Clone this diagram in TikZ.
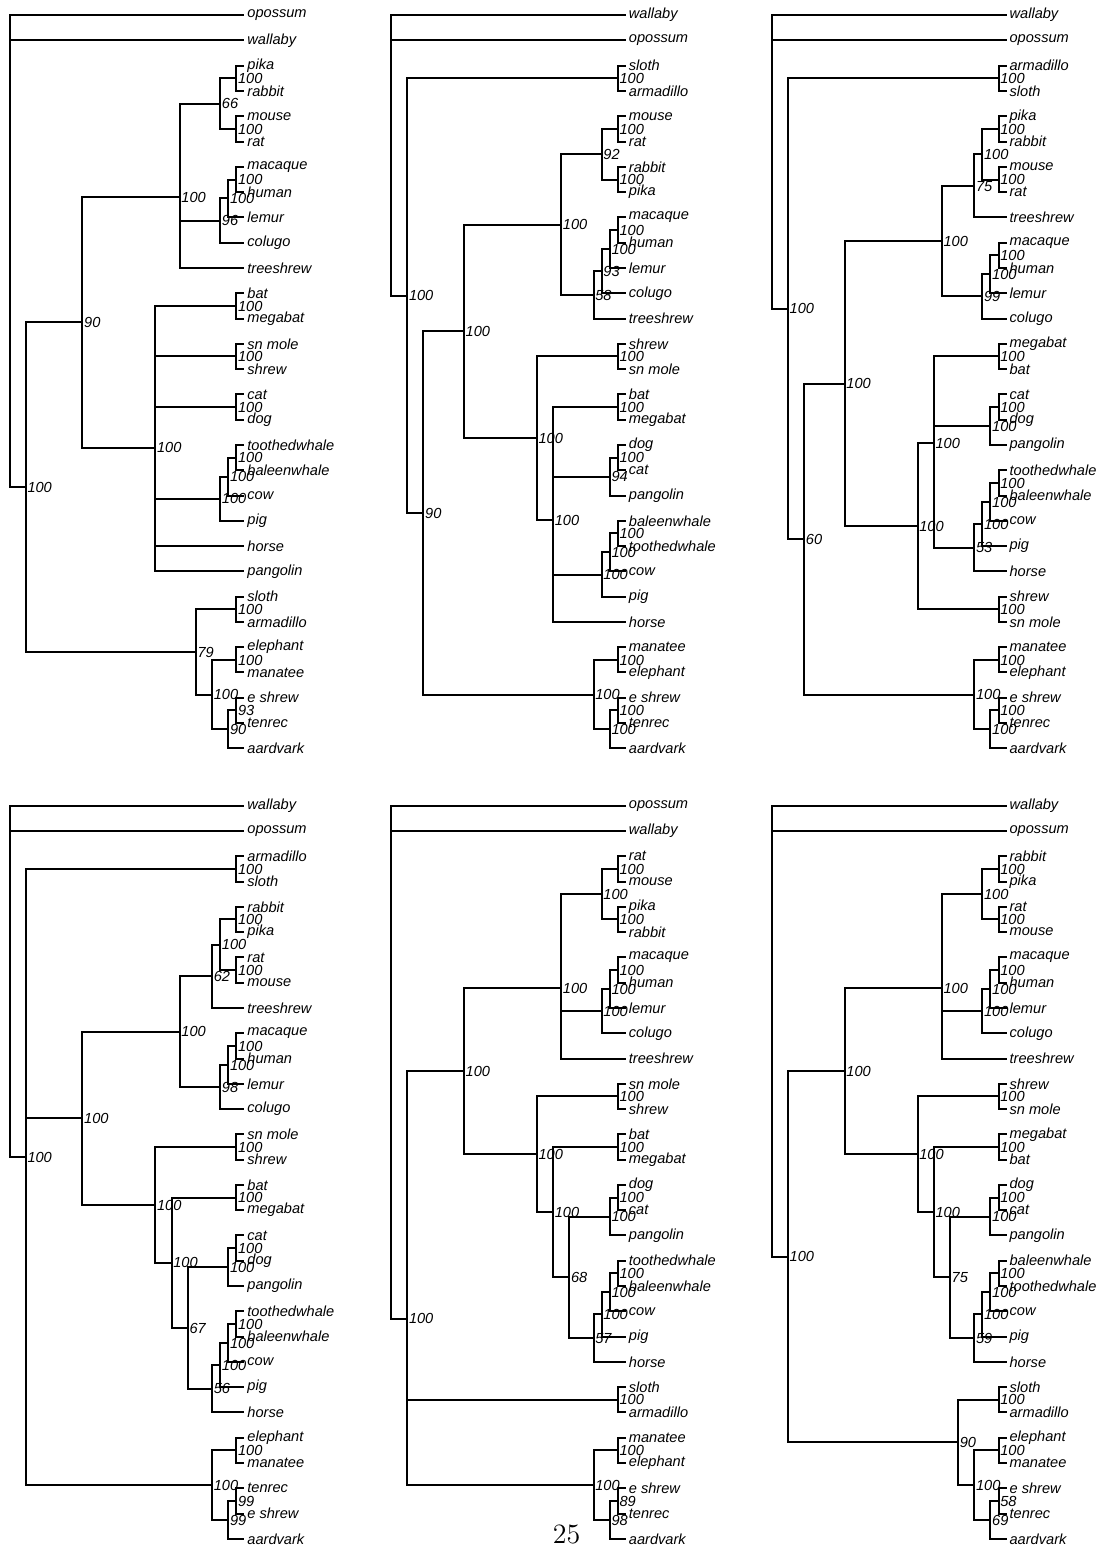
\documentclass[tikz,border=0pt]{standalone}
\usepackage{fontspec}
\newfontfamily\treefont{Liberation Sans}
\usepackage{tikz}
\tikzset{
  tip/.style     = {anchor=west, inner xsep=1pt, inner ysep=0pt,
                    font=\treefont\itshape\fontsize{7.3}{8}\selectfont},
  bootlab/.style = {inner xsep=.4pt, inner ysep=0pt,
                    text height=5.2pt, text depth=0pt,
                    font=\treefont\itshape\fontsize{7.3}{8}\selectfont},
  boot/.style    = {label={[bootlab]right:#1}}
}

\begin{document}
\begin{tikzpicture}[%
  x=4.05pt, y=-12.64pt,
  line width=1pt,
  every edge/.append style={to path={|- (\tikztotarget)}}
  ]
  \useasboundingbox (0pt,0pt) rectangle (548.5pt,-775pt);

  % Tree 1:
  \begin{scope}[shift={(4.75pt,-7.6pt)}]
    \foreach \n/\t [count=\i from 0] in {opossum, wallaby, pika, rabbit, mouse, rat,
        macaque, human, lemur, colugo, treeshrew, bat, megabat, snmole/sn mole, shrew,
        cat, dog, toothedwhale, baleenwhale, cow, pig, horse, pangolin, sloth,
        armadillo, elephant, manatee, eshrew/e shrew, tenrec, aardvark}
      \node[tip] (a-\n) at (29,\i) {\t};
    \coordinate (a-root) at (0,6.557);
    \coordinate[boot=100] (a-euth) at (2,18.672);
    \coordinate[boot=90] (a-bor) at (9,12.156);
    \coordinate[boot=100] (a-euar) at (21,7.208);
    \coordinate[boot=66] (a-glires) at (26,3.5);
    \coordinate[boot=100] (a-lago) at (28,2.5);
    \coordinate[boot=100] (a-rod) at (28,4.5);
    \coordinate[boot=96] (a-prim) at (26,8.125);
    \coordinate[boot=100] (a-mhl) at (27,7.25);
    \coordinate[boot=100] (a-mh) at (28,6.5);
    \coordinate[boot=100] (a-laur) at (18,17.104);
    \coordinate[boot=100] (a-bats) at (28,11.5);
    \coordinate[boot=100] (a-moles) at (28,13.5);
    \coordinate[boot=100] (a-carn) at (28,15.5);
    \coordinate[boot=100] (a-cet) at (26,19.125);
    \coordinate[boot=100] (a-tbc) at (27,18.25);
    \coordinate[boot=100] (a-whales) at (28,17.5);
    \coordinate[boot=79] (a-atl) at (23,25.188);
    \coordinate[boot=100] (a-xen) at (28,23.5);
    \coordinate[boot=100] (a-afro) at (25,26.875);
    \coordinate[boot=100] (a-pe) at (28,25.5);
    \coordinate[boot=90] (a-afi) at (27,28.25);
    \coordinate[boot=93] (a-et) at (28,27.5);

    \draw (a-root) edge (a-opossum) edge (a-wallaby) edge (a-euth);
    \draw (a-euth) edge (a-bor) edge (a-atl);
    \draw (a-bor) edge (a-euar) edge (a-laur);
    \draw (a-euar) edge (a-glires) edge (a-prim) edge (a-treeshrew);
    \draw (a-glires) edge (a-lago) edge (a-rod);
    \draw (a-lago) edge (a-pika) edge (a-rabbit);
    \draw (a-rod) edge (a-mouse) edge (a-rat);
    \draw (a-prim) edge (a-mhl) edge (a-colugo);
    \draw (a-mhl) edge (a-mh) edge (a-lemur);
    \draw (a-mh) edge (a-macaque) edge (a-human);
    \draw (a-laur) edge (a-bats) edge (a-moles) edge (a-carn) edge (a-cet)
                   edge (a-horse) edge (a-pangolin);
    \draw (a-bats) edge (a-bat) edge (a-megabat);
    \draw (a-moles) edge (a-snmole) edge (a-shrew);
    \draw (a-carn) edge (a-cat) edge (a-dog);
    \draw (a-cet) edge (a-tbc) edge (a-pig);
    \draw (a-tbc) edge (a-whales) edge (a-cow);
    \draw (a-whales) edge (a-toothedwhale) edge (a-baleenwhale);
    \draw (a-atl) edge (a-xen) edge (a-afro);
    \draw (a-xen) edge (a-sloth) edge (a-armadillo);
    \draw (a-afro) edge (a-pe) edge (a-afi);
    \draw (a-pe) edge (a-elephant) edge (a-manatee);
    \draw (a-afi) edge (a-et) edge (a-aardvark);
    \draw (a-et) edge (a-eshrew) edge (a-tenrec);
  \end{scope}

  % Tree 2:
  \begin{scope}[shift={(195.5pt,-7.6pt)}]
    \foreach \n/\t [count=\i from 0] in {wallaby, opossum, sloth, armadillo, mouse, rat,
        rabbit, pika, macaque, human, lemur, colugo, treeshrew, shrew, snmole/sn mole,
        bat, megabat, dog, cat, pangolin, baleenwhale, toothedwhale, cow, pig, horse,
        manatee, elephant, eshrew/e shrew, tenrec, aardvark}
      \node[tip] (b-\n) at (29,\i) {\t};
    \coordinate (b-root) at (0,4.032);
    \coordinate[boot=100] (b-euth) at (2,11.096);
    \coordinate[boot=100] (b-xen) at (28,2.5);
    \coordinate[boot=90] (b-ninety) at (4,19.691);
    \coordinate[boot=100] (b-bor) at (9,12.507);
    \coordinate[boot=100] (b-euar) at (21,8.281);
    \coordinate[boot=92] (b-glires) at (26,5.5);
    \coordinate[boot=100] (b-rod) at (28,4.5);
    \coordinate[boot=100] (b-lago) at (28,6.5);
    \coordinate[boot=58] (b-eup) at (25,11.063);
    \coordinate[boot=93] (b-prim) at (26,10.125);
    \coordinate[boot=100] (b-mhl) at (27,9.25);
    \coordinate[boot=100] (b-mh) at (28,8.5);
    \coordinate[boot=100] (b-laur) at (18,16.734);
    \coordinate[boot=100] (b-moles) at (28,13.5);
    \coordinate[boot=100] (b-lr) at (20,19.969);
    \coordinate[boot=100] (b-bats) at (28,15.5);
    \coordinate[boot=94] (b-carn) at (27,18.25);
    \coordinate[boot=100] (b-dc) at (28,17.5);
    \coordinate[boot=100] (b-cet) at (26,22.125);
    \coordinate[boot=100] (b-tbc) at (27,21.25);
    \coordinate[boot=100] (b-whales) at (28,20.5);
    \coordinate[boot=100] (b-afro) at (25,26.875);
    \coordinate[boot=100] (b-pe) at (28,25.5);
    \coordinate[boot=100] (b-afi) at (27,28.25);
    \coordinate[boot=100] (b-et) at (28,27.5);

    \draw (b-root) edge (b-wallaby) edge (b-opossum) edge (b-euth);
    \draw (b-euth) edge (b-xen) edge (b-ninety);
    \draw (b-xen) edge (b-sloth) edge (b-armadillo);
    \draw (b-ninety) edge (b-bor) edge (b-afro);
    \draw (b-bor) edge (b-euar) edge (b-laur);
    \draw (b-euar) edge (b-glires) edge (b-eup);
    \draw (b-glires) edge (b-rod) edge (b-lago);
    \draw (b-rod) edge (b-mouse) edge (b-rat);
    \draw (b-lago) edge (b-rabbit) edge (b-pika);
    \draw (b-eup) edge (b-prim) edge (b-treeshrew);
    \draw (b-prim) edge (b-mhl) edge (b-colugo);
    \draw (b-mhl) edge (b-mh) edge (b-lemur);
    \draw (b-mh) edge (b-macaque) edge (b-human);
    \draw (b-laur) edge (b-moles) edge (b-lr);
    \draw (b-moles) edge (b-shrew) edge (b-snmole);
    \draw (b-lr) edge (b-bats) edge (b-carn) edge (b-cet) edge (b-horse);
    \draw (b-bats) edge (b-bat) edge (b-megabat);
    \draw (b-carn) edge (b-dc) edge (b-pangolin);
    \draw (b-dc) edge (b-dog) edge (b-cat);
    \draw (b-cet) edge (b-tbc) edge (b-pig);
    \draw (b-tbc) edge (b-whales) edge (b-cow);
    \draw (b-whales) edge (b-baleenwhale) edge (b-toothedwhale);
    \draw (b-afro) edge (b-pe) edge (b-afi);
    \draw (b-pe) edge (b-manatee) edge (b-elephant);
    \draw (b-afi) edge (b-et) edge (b-aardvark);
    \draw (b-et) edge (b-eshrew) edge (b-tenrec);
  \end{scope}

  % Tree 3:
  \begin{scope}[shift={(385.85pt,-7.6pt)}]
    \foreach \n/\t [count=\i from 0] in {wallaby, opossum, armadillo, sloth, pika, rabbit,
        mouse, rat, treeshrew, macaque, human, lemur, colugo, megabat, bat, cat, dog,
        pangolin, toothedwhale, baleenwhale, cow, pig, horse, shrew, snmole/sn mole,
        manatee, elephant, eshrew/e shrew, tenrec, aardvark}
      \node[tip] (c-\n) at (29,\i) {\t};
    \coordinate (c-root) at (0,4.204);
    \coordinate[boot=100] (c-euth) at (2,11.613);
    \coordinate[boot=100] (c-xen) at (28,2.5);
    \coordinate[boot=60] (c-sixty) at (4,20.727);
    \coordinate[boot=100] (c-bor) at (9,14.578);
    \coordinate[boot=100] (c-euar) at (21,8.938);
    \coordinate[boot=75] (c-eg) at (25,6.75);
    \coordinate[boot=100] (c-glires) at (26,5.5);
    \coordinate[boot=100] (c-lago) at (28,4.5);
    \coordinate[boot=100] (c-rod) at (28,6.5);
    \coordinate[boot=99] (c-prim) at (26,11.125);
    \coordinate[boot=100] (c-mhl) at (27,10.25);
    \coordinate[boot=100] (c-mh) at (28,9.5);
    \coordinate[boot=100] (c-laur) at (18,20.219);
    \coordinate[boot=100] (c-lr) at (20,16.938);
    \coordinate[boot=100] (c-bats) at (28,13.5);
    \coordinate[boot=100] (c-carn) at (27,16.25);
    \coordinate[boot=100] (c-dc) at (28,15.5);
    \coordinate[boot=53] (c-cetc) at (25,21.063);
    \coordinate[boot=100] (c-cet) at (26,20.125);
    \coordinate[boot=100] (c-tbc) at (27,19.25);
    \coordinate[boot=100] (c-whales) at (28,18.5);
    \coordinate[boot=100] (c-moles) at (28,23.5);
    \coordinate[boot=100] (c-afro) at (25,26.875);
    \coordinate[boot=100] (c-pe) at (28,25.5);
    \coordinate[boot=100] (c-afi) at (27,28.25);
    \coordinate[boot=100] (c-et) at (28,27.5);

    \draw (c-root) edge (c-wallaby) edge (c-opossum) edge (c-euth);
    \draw (c-euth) edge (c-xen) edge (c-sixty);
    \draw (c-xen) edge (c-armadillo) edge (c-sloth);
    \draw (c-sixty) edge (c-bor) edge (c-afro);
    \draw (c-bor) edge (c-euar) edge (c-laur);
    \draw (c-euar) edge (c-eg) edge (c-prim);
    \draw (c-eg) edge (c-glires) edge (c-treeshrew);
    \draw (c-glires) edge (c-lago) edge (c-rod);
    \draw (c-lago) edge (c-pika) edge (c-rabbit);
    \draw (c-rod) edge (c-mouse) edge (c-rat);
    \draw (c-prim) edge (c-mhl) edge (c-colugo);
    \draw (c-mhl) edge (c-mh) edge (c-lemur);
    \draw (c-mh) edge (c-macaque) edge (c-human);
    \draw (c-laur) edge (c-lr) edge (c-moles);
    \draw (c-lr) edge (c-bats) edge (c-carn) edge (c-cetc);
    \draw (c-bats) edge (c-megabat) edge (c-bat);
    \draw (c-carn) edge (c-dc) edge (c-pangolin);
    \draw (c-dc) edge (c-cat) edge (c-dog);
    \draw (c-cetc) edge (c-cet) edge (c-horse);
    \draw (c-cet) edge (c-tbc) edge (c-pig);
    \draw (c-tbc) edge (c-whales) edge (c-cow);
    \draw (c-whales) edge (c-toothedwhale) edge (c-baleenwhale);
    \draw (c-moles) edge (c-shrew) edge (c-snmole);
    \draw (c-afro) edge (c-pe) edge (c-afi);
    \draw (c-pe) edge (c-manatee) edge (c-elephant);
    \draw (c-afi) edge (c-et) edge (c-aardvark);
    \draw (c-et) edge (c-eshrew) edge (c-tenrec);
  \end{scope}

  % Tree 4:
  \begin{scope}[shift={(4.75pt,-402.85pt)}]
    \foreach \n/\t [count=\i from 0] in {wallaby, opossum, armadillo, sloth, rabbit, pika,
        rat, mouse, treeshrew, macaque, human, lemur, colugo, snmole/sn mole, shrew, bat,
        megabat, cat, dog, pangolin, toothedwhale, baleenwhale, cow, pig, horse,
        elephant, manatee, tenrec, eshrew/e shrew, aardvark}
      \node[tip] (d-\n) at (29,\i) {\t};
    \coordinate (d-root) at (0,4.971);
    \coordinate[boot=100] (d-euth) at (2,13.913);
    \coordinate[boot=100] (d-xen) at (28,2.5);
    \coordinate[boot=100] (d-bor) at (9,12.363);
    \coordinate[boot=100] (d-euar) at (21,8.938);
    \coordinate[boot=62] (d-eg) at (25,6.75);
    \coordinate[boot=100] (d-glires) at (26,5.5);
    \coordinate[boot=100] (d-lago) at (28,4.5);
    \coordinate[boot=100] (d-rod) at (28,6.5);
    \coordinate[boot=98] (d-prim) at (26,11.125);
    \coordinate[boot=100] (d-mhl) at (27,10.25);
    \coordinate[boot=100] (d-mh) at (28,9.5);
    \coordinate[boot=100] (d-laur) at (18,15.789);
    \coordinate[boot=100] (d-moles) at (28,13.5);
    \coordinate[boot=100] (d-lr) at (20,18.078);
    \coordinate[boot=100] (d-bats) at (28,15.5);
    \coordinate[boot=67] (d-sixtyseven) at (22,20.656);
    \coordinate[boot=100] (d-carn) at (27,18.25);
    \coordinate[boot=100] (d-dc) at (28,17.5);
    \coordinate[boot=56] (d-cetc) at (25,23.063);
    \coordinate[boot=100] (d-cet) at (26,22.125);
    \coordinate[boot=100] (d-tbc) at (27,21.25);
    \coordinate[boot=100] (d-whales) at (28,20.5);
    \coordinate[boot=100] (d-afro) at (25,26.875);
    \coordinate[boot=100] (d-pe) at (28,25.5);
    \coordinate[boot=99] (d-afi) at (27,28.25);
    \coordinate[boot=99] (d-et) at (28,27.5);

    \draw (d-root) edge (d-wallaby) edge (d-opossum) edge (d-euth);
    \draw (d-euth) edge (d-xen) edge (d-bor) edge (d-afro);
    \draw (d-xen) edge (d-armadillo) edge (d-sloth);
    \draw (d-bor) edge (d-euar) edge (d-laur);
    \draw (d-euar) edge (d-eg) edge (d-prim);
    \draw (d-eg) edge (d-glires) edge (d-treeshrew);
    \draw (d-glires) edge (d-lago) edge (d-rod);
    \draw (d-lago) edge (d-rabbit) edge (d-pika);
    \draw (d-rod) edge (d-rat) edge (d-mouse);
    \draw (d-prim) edge (d-mhl) edge (d-colugo);
    \draw (d-mhl) edge (d-mh) edge (d-lemur);
    \draw (d-mh) edge (d-macaque) edge (d-human);
    \draw (d-laur) edge (d-moles) edge (d-lr);
    \draw (d-moles) edge (d-snmole) edge (d-shrew);
    \draw (d-lr) edge (d-bats) edge (d-sixtyseven);
    \draw (d-bats) edge (d-bat) edge (d-megabat);
    \draw (d-sixtyseven) edge (d-carn) edge (d-cetc);
    \draw (d-carn) edge (d-dc) edge (d-pangolin);
    \draw (d-dc) edge (d-cat) edge (d-dog);
    \draw (d-cetc) edge (d-cet) edge (d-horse);
    \draw (d-cet) edge (d-tbc) edge (d-pig);
    \draw (d-tbc) edge (d-whales) edge (d-cow);
    \draw (d-whales) edge (d-toothedwhale) edge (d-baleenwhale);
    \draw (d-afro) edge (d-pe) edge (d-afi);
    \draw (d-pe) edge (d-elephant) edge (d-manatee);
    \draw (d-afi) edge (d-et) edge (d-aardvark);
    \draw (d-et) edge (d-tenrec) edge (d-eshrew);
  \end{scope}

  % Tree 5:
  \begin{scope}[shift={(195.5pt,-402.85pt)}]
    \foreach \n/\t [count=\i from 0] in {opossum, wallaby, rat, mouse, pika, rabbit,
        macaque, human, lemur, colugo, treeshrew, snmole/sn mole, shrew, bat, megabat,
        dog, cat, pangolin, toothedwhale, baleenwhale, cow, pig, horse, sloth,
        armadillo, manatee, elephant, eshrew/e shrew, tenrec, aardvark}
      \node[tip] (e-\n) at (29,\i) {\t};
    \coordinate (e-root) at (0,7.097);
    \coordinate[boot=100] (e-euth) at (2,20.291);
    \coordinate[boot=100] (e-bor) at (9,10.499);
    \coordinate[boot=100] (e-euar) at (21,7.208);
    \coordinate[boot=100] (e-glires) at (26,3.5);
    \coordinate[boot=100] (e-rod) at (28,2.5);
    \coordinate[boot=100] (e-lago) at (28,4.5);
    \coordinate[boot=100] (e-prim) at (26,8.125);
    \coordinate[boot=100] (e-mhl) at (27,7.25);
    \coordinate[boot=100] (e-mh) at (28,6.5);
    \coordinate[boot=100] (e-laur) at (18,13.789);
    \coordinate[boot=100] (e-moles) at (28,11.5);
    \coordinate[boot=100] (e-lr) at (20,16.078);
    \coordinate[boot=100] (e-bats) at (28,13.5);
    \coordinate[boot=68] (e-sixtyeight) at (22,18.656);
    \coordinate[boot=100] (e-carn) at (27,16.25);
    \coordinate[boot=100] (e-dc) at (28,15.5);
    \coordinate[boot=57] (e-cetc) at (25,21.063);
    \coordinate[boot=100] (e-cet) at (26,20.125);
    \coordinate[boot=100] (e-tbc) at (27,19.25);
    \coordinate[boot=100] (e-whales) at (28,18.5);
    \coordinate[boot=100] (e-xen) at (28,23.5);
    \coordinate[boot=100] (e-afro) at (25,26.875);
    \coordinate[boot=100] (e-pe) at (28,25.5);
    \coordinate[boot=98] (e-afi) at (27,28.25);
    \coordinate[boot=89] (e-et) at (28,27.5);

    \draw (e-root) edge (e-opossum) edge (e-wallaby) edge (e-euth);
    \draw (e-euth) edge (e-bor) edge (e-xen) edge (e-afro);
    \draw (e-bor) edge (e-euar) edge (e-laur);
    \draw (e-euar) edge (e-glires) edge (e-prim) edge (e-treeshrew);
    \draw (e-glires) edge (e-rod) edge (e-lago);
    \draw (e-rod) edge (e-rat) edge (e-mouse);
    \draw (e-lago) edge (e-pika) edge (e-rabbit);
    \draw (e-prim) edge (e-mhl) edge (e-colugo);
    \draw (e-mhl) edge (e-mh) edge (e-lemur);
    \draw (e-mh) edge (e-macaque) edge (e-human);
    \draw (e-laur) edge (e-moles) edge (e-lr);
    \draw (e-moles) edge (e-snmole) edge (e-shrew);
    \draw (e-lr) edge (e-bats) edge (e-sixtyeight);
    \draw (e-bats) edge (e-bat) edge (e-megabat);
    \draw (e-sixtyeight) edge (e-carn) edge (e-cetc);
    \draw (e-carn) edge (e-dc) edge (e-pangolin);
    \draw (e-dc) edge (e-dog) edge (e-cat);
    \draw (e-cetc) edge (e-cet) edge (e-horse);
    \draw (e-cet) edge (e-tbc) edge (e-pig);
    \draw (e-tbc) edge (e-whales) edge (e-cow);
    \draw (e-whales) edge (e-toothedwhale) edge (e-baleenwhale);
    \draw (e-xen) edge (e-sloth) edge (e-armadillo);
    \draw (e-afro) edge (e-pe) edge (e-afi);
    \draw (e-pe) edge (e-manatee) edge (e-elephant);
    \draw (e-afi) edge (e-et) edge (e-aardvark);
    \draw (e-et) edge (e-eshrew) edge (e-tenrec);
  \end{scope}

  % Tree 6:
  \begin{scope}[shift={(385.85pt,-402.85pt)}]
    \foreach \n/\t [count=\i from 0] in {wallaby, opossum, rabbit, pika, rat, mouse,
        macaque, human, lemur, colugo, treeshrew, shrew, snmole/sn mole, megabat, bat,
        dog, cat, pangolin, baleenwhale, toothedwhale, cow, pig, horse, sloth,
        armadillo, elephant, manatee, eshrew/e shrew, tenrec, aardvark}
      \node[tip] (f-\n) at (29,\i) {\t};
    \coordinate (f-root) at (0,6.281);
    \coordinate[boot=100] (f-euth) at (2,17.843);
    \coordinate[boot=100] (f-bor) at (9,10.499);
    \coordinate[boot=100] (f-euar) at (21,7.208);
    \coordinate[boot=100] (f-glires) at (26,3.5);
    \coordinate[boot=100] (f-lago) at (28,2.5);
    \coordinate[boot=100] (f-rod) at (28,4.5);
    \coordinate[boot=100] (f-prim) at (26,8.125);
    \coordinate[boot=100] (f-mhl) at (27,7.25);
    \coordinate[boot=100] (f-mh) at (28,6.5);
    \coordinate[boot=100] (f-laur) at (18,13.789);
    \coordinate[boot=100] (f-moles) at (28,11.5);
    \coordinate[boot=100] (f-lr) at (20,16.078);
    \coordinate[boot=100] (f-bats) at (28,13.5);
    \coordinate[boot=75] (f-seventyfive) at (22,18.656);
    \coordinate[boot=100] (f-carn) at (27,16.25);
    \coordinate[boot=100] (f-dc) at (28,15.5);
    \coordinate[boot=59] (f-cetc) at (25,21.063);
    \coordinate[boot=100] (f-cet) at (26,20.125);
    \coordinate[boot=100] (f-tbc) at (27,19.25);
    \coordinate[boot=100] (f-whales) at (28,18.5);
    \coordinate[boot=90] (f-atl) at (23,25.188);
    \coordinate[boot=100] (f-xen) at (28,23.5);
    \coordinate[boot=100] (f-afro) at (25,26.875);
    \coordinate[boot=100] (f-pe) at (28,25.5);
    \coordinate[boot=69] (f-afi) at (27,28.25);
    \coordinate[boot=58] (f-et) at (28,27.5);

    \draw (f-root) edge (f-wallaby) edge (f-opossum) edge (f-euth);
    \draw (f-euth) edge (f-bor) edge (f-atl);
    \draw (f-bor) edge (f-euar) edge (f-laur);
    \draw (f-euar) edge (f-glires) edge (f-prim) edge (f-treeshrew);
    \draw (f-glires) edge (f-lago) edge (f-rod);
    \draw (f-lago) edge (f-rabbit) edge (f-pika);
    \draw (f-rod) edge (f-rat) edge (f-mouse);
    \draw (f-prim) edge (f-mhl) edge (f-colugo);
    \draw (f-mhl) edge (f-mh) edge (f-lemur);
    \draw (f-mh) edge (f-macaque) edge (f-human);
    \draw (f-laur) edge (f-moles) edge (f-lr);
    \draw (f-moles) edge (f-shrew) edge (f-snmole);
    \draw (f-lr) edge (f-bats) edge (f-seventyfive);
    \draw (f-bats) edge (f-megabat) edge (f-bat);
    \draw (f-seventyfive) edge (f-carn) edge (f-cetc);
    \draw (f-carn) edge (f-dc) edge (f-pangolin);
    \draw (f-dc) edge (f-dog) edge (f-cat);
    \draw (f-cetc) edge (f-cet) edge (f-horse);
    \draw (f-cet) edge (f-tbc) edge (f-pig);
    \draw (f-tbc) edge (f-whales) edge (f-cow);
    \draw (f-whales) edge (f-baleenwhale) edge (f-toothedwhale);
    \draw (f-atl) edge (f-xen) edge (f-afro);
    \draw (f-xen) edge (f-sloth) edge (f-armadillo);
    \draw (f-afro) edge (f-pe) edge (f-afi);
    \draw (f-pe) edge (f-elephant) edge (f-manatee);
    \draw (f-afi) edge (f-et) edge (f-aardvark);
    \draw (f-et) edge (f-eshrew) edge (f-tenrec);
  \end{scope}

  % Page number:
  \node (pageno) [anchor=base, inner sep=0pt, font=\fontsize{14}{16}\selectfont]
    at (283.3pt,-771.5pt) {25};
\end{tikzpicture}
\end{document}
